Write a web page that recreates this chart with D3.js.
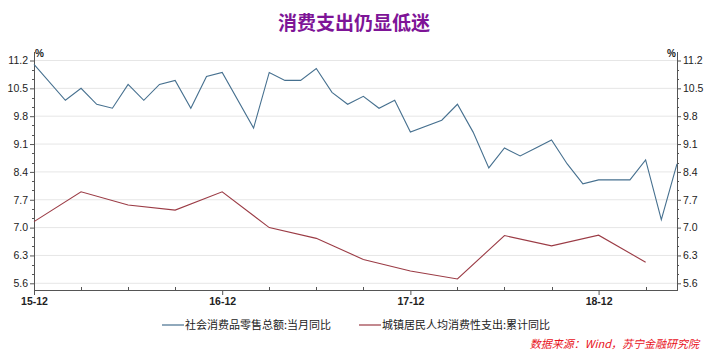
<!DOCTYPE html>
<html><head><meta charset="utf-8">
<script src="https://cdn.jsdelivr.net/npm/d3@7"></script>
<style>
html,body{margin:0;padding:0;background:#fff;}
svg{display:block;}
</style></head>
<body>
<svg id="chart" width="710" height="359"></svg>
<script>
// ---- data ----
const titleText = "消费支出仍显低迷";
const seriesNames = ["社会消费品零售总额:当月同比", "城镇居民人均消费性支出:累计同比"];
const sourceText = "数据来源：Wind，苏宁金融研究院";
const startMonth = "2015-12";
const endMonth = "2019-05";
const xTickLabels = ["15-12", "16-12", "17-12", "18-12"];
const yTicks = [5.6, 6.3, 7.0, 7.7, 8.4, 9.1, 9.8, 10.5, 11.2];

const retailMonths = ["2015-12","2016-02","2016-03","2016-04","2016-05","2016-06","2016-07","2016-08","2016-09","2016-10","2016-11","2016-12",
  "2017-02","2017-03","2017-04","2017-05","2017-06","2017-07","2017-08","2017-09","2017-10","2017-11","2017-12",
  "2018-02","2018-03","2018-04","2018-05","2018-06","2018-07","2018-08","2018-09","2018-10","2018-11","2018-12",
  "2019-02","2019-03","2019-04","2019-05"];
const retailValues = [11.1,10.2,10.5,10.1,10.0,10.6,10.2,10.6,10.7,10.0,10.8,10.9,
  9.5,10.9,10.7,10.7,11.0,10.4,10.1,10.3,10.0,10.2,9.4,
  9.7,10.1,9.4,8.5,9.0,8.8,9.0,9.2,8.6,8.1,8.2,
  8.2,8.7,7.2,8.6];

const spendMonths = ["2015-12","2016-03","2016-06","2016-09","2016-12","2017-03","2017-06","2017-09","2017-12","2018-03","2018-06","2018-09","2018-12","2019-03"];
const spendValues = [7.15,7.9,7.57,7.44,7.9,7.0,6.73,6.2,5.91,5.71,6.8,6.54,6.81,6.13];

// ---- helpers ----
function monthIndex(s){
  const [y,m] = s.split("-").map(Number);
  const [y0,m0] = startMonth.split("-").map(Number);
  return (y - y0) * 12 + (m - m0);
}
const nMonths = monthIndex(endMonth);

const svg = d3.select("#chart");
const L = 34, R = 677, T = 52, B = 290;
const x = d3.scaleLinear().domain([0, nMonths]).range([L, R]);
const y = d3.scaleLinear().domain([5.6, 11.2]).range([283.3, 60.5]);

const numFont = "'Liberation Sans', Arial, sans-serif";
const cjkFont = "'Noto Sans CJK SC', sans-serif";

// title
svg.append("text").attr("x", 354).attr("y", 30).attr("text-anchor", "middle")
  .attr("font-family", cjkFont).attr("font-weight", "bold").attr("font-size", 19)
  .attr("fill", "#7E1497").text(titleText);

// gridlines
svg.append("g").selectAll("line").data(yTicks).join("line")
  .attr("x1", L).attr("x2", R).attr("y1", d => y(d)).attr("y2", d => y(d))
  .attr("stroke", "#e6e6e6").attr("stroke-width", 1);

// minor y ticks
const minorY = [];
for (let i = 0; i < yTicks.length - 1; i++) {
  const a = yTicks[i], b = yTicks[i+1];
  minorY.push(a + (b - a) / 3, a + 2 * (b - a) / 3);
}

const axisColor = "#555";
// left axis
const yl = svg.append("g").attr("transform", `translate(${L},0)`)
  .call(d3.axisLeft(y).tickValues(yTicks).tickFormat(d3.format(".1f")).tickSize(4).tickPadding(2));
yl.select(".domain").remove();
yl.selectAll("line").attr("stroke", axisColor);
yl.selectAll("text").attr("font-family", numFont).attr("font-size", 10.5).attr("fill", "#222");
svg.append("g").selectAll("line").data(minorY).join("line")
  .attr("x1", L - 2).attr("x2", L).attr("y1", d => Math.round(y(d)) + 0.5).attr("y2", d => Math.round(y(d)) + 0.5)
  .attr("stroke", axisColor);
svg.append("line").attr("x1", L + 0.5).attr("x2", L + 0.5).attr("y1", T).attr("y2", B).attr("stroke", axisColor);

// right axis
const yr = svg.append("g").attr("transform", `translate(${R},0)`)
  .call(d3.axisRight(y).tickValues(yTicks).tickFormat(d3.format(".1f")).tickSize(4).tickPadding(2));
yr.select(".domain").remove();
yr.selectAll("line").attr("stroke", axisColor);
yr.selectAll("text").attr("font-family", numFont).attr("font-size", 10.5).attr("fill", "#222");
svg.append("g").selectAll("line").data(minorY).join("line")
  .attr("x1", R).attr("x2", R + 2).attr("y1", d => Math.round(y(d)) + 0.5).attr("y2", d => Math.round(y(d)) + 0.5)
  .attr("stroke", axisColor);
svg.append("line").attr("x1", R + 0.5).attr("x2", R + 0.5).attr("y1", T).attr("y2", B).attr("stroke", axisColor);

// % labels
svg.append("text").attr("x", L + 1).attr("y", 57).attr("font-family", numFont).attr("font-size", 10).attr("font-weight", "bold").attr("fill", "#222").text("%");
svg.append("text").attr("x", R - 1).attr("y", 57).attr("text-anchor", "end").attr("font-family", numFont).attr("font-size", 10).attr("font-weight", "bold").attr("fill", "#222").text("%");

// x axis
svg.append("line").attr("x1", L).attr("x2", R + 1).attr("y1", B + 0.5).attr("y2", B + 0.5).attr("stroke", axisColor);
const majorIdx = xTickLabels.map(s => monthIndex("20" + s));
const minorIdx = d3.range(3, nMonths + 1, 3).filter(i => !majorIdx.includes(i));
const xa = svg.append("g").attr("transform", `translate(0,${B})`)
  .call(d3.axisBottom(x).tickValues(majorIdx).tickFormat((d, i) => xTickLabels[i]).tickSize(5).tickPadding(3));
xa.select(".domain").remove();
xa.selectAll("line").attr("stroke", axisColor);
xa.selectAll("text").attr("font-family", numFont).attr("font-size", 10.5).attr("font-weight", "bold").attr("fill", "#222");
svg.append("g").selectAll("line").data(minorIdx).join("line")
  .attr("x1", d => Math.round(x(d)) + 0.5).attr("x2", d => Math.round(x(d)) + 0.5)
  .attr("y1", B - 3).attr("y2", B).attr("stroke", axisColor);

// lines
const line = d3.line().x(d => x(d[0])).y(d => y(d[1]));
const retail = retailMonths.map((m, i) => [monthIndex(m), retailValues[i]]);
const spend = spendMonths.map((m, i) => [monthIndex(m), spendValues[i]]);
const colors = ["#46708F", "#9B3B45"];
svg.append("path").datum(retail).attr("d", line).attr("fill", "none").attr("stroke", colors[0]).attr("stroke-width", 1.1);
svg.append("path").datum(spend).attr("d", line).attr("fill", "none").attr("stroke", colors[1]).attr("stroke-width", 1.1);

// legend
const legY = 325;
const legX = [162, 359];
seriesNames.forEach((n, i) => {
  svg.append("line").attr("x1", legX[i]).attr("x2", legX[i] + 22).attr("y1", legY).attr("y2", legY)
    .attr("stroke", colors[i]).attr("stroke-width", 1.2);
  svg.append("text").attr("x", legX[i] + 23).attr("y", legY + 4).attr("font-family", cjkFont)
    .attr("font-size", 11).attr("fill", "#222").text(n);
});

// source
svg.append("text").attr("x", 699).attr("y", 348).attr("text-anchor", "end")
  .attr("font-family", cjkFont).attr("font-size", 11).attr("font-style", "italic")
  .attr("fill", "#E8121B").text(sourceText);
</script>
</body></html>
